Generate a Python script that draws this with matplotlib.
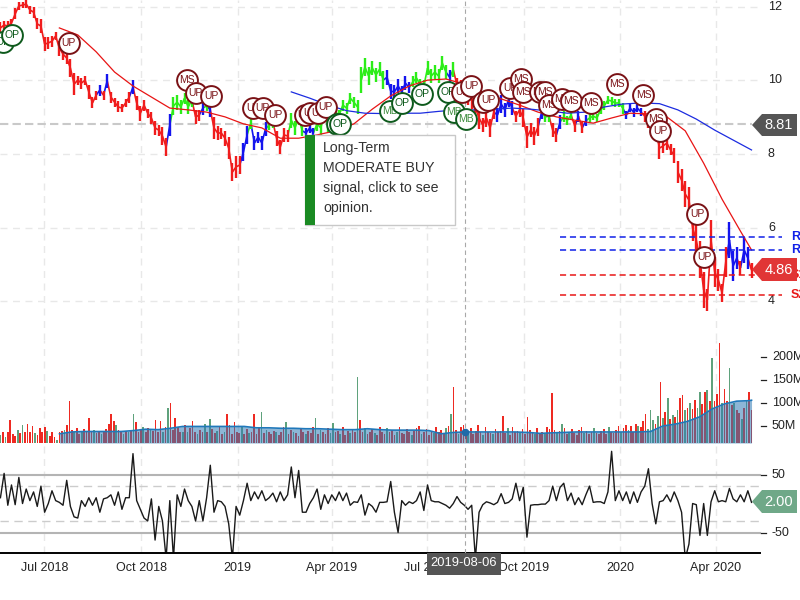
import numpy as np
import pandas as pd
import matplotlib
matplotlib.use("Agg")
import matplotlib.pyplot as plt
import matplotlib.dates as mdates
from matplotlib.collections import LineCollection
from matplotlib.patches import Polygon, Rectangle

plt.rcParams["font.family"] = ["Liberation Sans", "DejaVu Sans"]

# ── Data ───────────────────────────────────────────────────
price = [
    11.43, 11.51, 11.48, 11.56, 11.81, 12.03, 12.05, 12.08, 11.92, 11.86,
    11.54, 11.48, 10.99, 11.02, 11.07, 11.21, 10.88, 10.72, 10.61, 10.34,
    9.90, 10.01, 9.93, 10.01, 9.69, 9.39, 9.60, 9.74, 9.60, 9.99,
    9.55, 9.41, 9.28, 9.25, 9.39, 9.55, 9.82, 9.39, 9.11, 9.33,
    9.11, 8.98, 8.71, 8.65, 8.49, 8.19, 8.79, 9.31, 9.41, 9.28,
    9.52, 9.28, 9.47, 9.01, 9.06, 9.25, 9.31, 9.20, 8.71, 8.57,
    8.57, 8.43, 8.16, 7.51, 7.65, 7.70, 8.05, 8.52, 8.84, 8.30,
    8.46, 8.30, 8.68, 8.79, 8.87, 8.43, 8.19, 8.52, 8.49, 8.92,
    8.71, 8.98, 8.63, 8.57, 8.71, 8.57, 8.82, 8.71, 9.09, 8.79,
    9.03, 9.14, 9.06, 9.33, 9.25, 9.52, 9.41, 9.28, 10.01, 10.37,
    10.12, 10.34, 10.15, 10.31, 10.01, 10.09, 9.71, 9.69, 9.85, 9.69,
    9.93, 9.80, 9.96, 10.07, 9.88, 9.85, 10.34, 10.12, 10.23, 10.12,
    10.48, 10.23, 10.09, 10.29, 9.88, 9.80, 9.69, 9.52, 9.47, 9.25,
    8.98, 8.79, 8.98, 8.71, 9.14, 9.06, 9.36, 9.20, 9.47, 9.25,
    9.03, 9.20, 8.98, 8.46, 8.65, 8.49, 8.73, 9.14, 9.01, 9.03,
    8.65, 8.52, 8.87, 9.01, 8.92, 9.06, 8.76, 9.03, 8.71, 8.90,
    8.98, 9.03, 8.98, 9.20, 9.31, 9.47, 9.44, 9.39, 9.39, 9.25,
    9.06, 9.25, 9.14, 9.25, 9.14, 9.03, 8.87, 8.71, 8.65, 8.16,
    8.22, 8.30, 8.11, 7.95, 7.51, 7.29, 6.91, 6.75, 5.99, 5.66,
    5.12, 4.30, 4.03, 5.66, 4.79, 4.57, 4.22, 5.06, 5.66, 4.95,
    5.17, 4.90, 5.39, 5.17, 4.84,
]
# half height of the daily bars around each price point
price_swing = [
    .15, .12, .15, .12, .15, .10, .08, .10, .12, .15,
    .15, .20, .20, .15, .15, .12, .20, .15, .15, .25,
    .30, .12, .15, .12, .20, .15, .12, .15, .12, .20,
    .15, .12, .15, .12, .12, .15, .20, .20, .20, .15,
    .12, .15, .20, .15, .25, .25, .30, .25, .20, .20,
    .15, .20, .20, .20, .15, .20, .15, .20, .30, .20,
    .15, .20, .30, .25, .30, .25, .25, .25, .15, .20,
    .15, .20, .20, .15, .15, .20, .20, .20, .15, .20,
    .20, .20, .15, .15, .15, .15, .20, .20, .20, .20,
    .20, .15, .15, .15, .15, .15, .15, .20, .35, .25,
    .25, .20, .20, .20, .25, .20, .20, .20, .20, .15,
    .20, .15, .15, .15, .15, .15, .20, .20, .20, .20,
    .20, .20, .20, .20, .20, .20, .20, .20, .25, .20,
    .30, .20, .25, .25, .20, .20, .25, .20, .20, .20,
    .15, .20, .25, .30, .20, .25, .25, .20, .15, .15,
    .20, .20, .20, .15, .12, .12, .15, .15, .15, .15,
    .12, .10, .12, .12, .12, .10, .10, .10, .12, .15,
    .12, .10, .12, .10, .10, .15, .15, .20, .25, .30,
    .20, .20, .15, .20, .30, .30, .35, .35, .35, .40,
    .50, .50, .30, .55, .40, .30, .25, .40, .50, .40,
    .30, .20, .35, .30, .20,
]
price_runs = [
    ("r", 27), ("b", 1), ("r", 1), ("b", 1), ("r", 6), ("b", 1), ("r", 9), ("b", 1),
    ("g", 6), ("r", 2), ("b", 1), ("g", 1), ("b", 1), ("r", 8), ("b", 2), ("g", 1),
    ("b", 4), ("g", 2), ("r", 4), ("g", 4), ("b", 3), ("g", 19), ("b", 7), ("g", 10),
    ("b", 1), ("g", 1), ("r", 11), ("b", 5), ("r", 7), ("b", 1), ("g", 2), ("r", 2),
    ("b", 1), ("g", 3), ("r", 1), ("b", 1), ("r", 1), ("b", 1), ("g", 10), ("b", 5),
    ("r", 23), ("b", 3), ("r", 1), ("b", 2), ("r", 1),
]
price_breaks = [97, 183]

ma_short = [
    11.43, 11.24, 10.78, 10.23, 9.85, 9.55, 9.25, 9.20, 9.14, 9.01,
    8.82, 8.71, 8.43, 8.43, 8.52, 8.63, 8.82, 9.22, 9.58, 9.85,
    10.01, 10.04, 9.90, 9.69, 9.50, 9.33, 9.14, 9.01, 8.92, 8.84,
    8.98, 9.11, 9.09, 9.01, 8.63, 7.75, 6.77, 5.90, 5.39,
]
ma_long = [
    9.69, 9.52, 9.33, 9.18, 9.11, 9.10, 9.11, 9.11, 9.16, 9.20,
    9.20, 9.22, 9.25, 9.22, 9.17, 9.11, 9.14, 9.28, 9.36, 9.39,
    9.37, 9.20, 8.95, 8.65, 8.38, 8.11,
]

volume = [
    30, 36, 26, 38, 64, 32, 28, 42, 34, 53,
    36, 55, 38, 50, 35, 30, 46, 38, 48, 40,
    28, 38, 26, 20, 36, 40, 42, 52, 104, 42,
    38, 46, 32, 36, 44, 36, 67, 36, 42, 34,
    40, 33, 36, 44, 54, 77, 60, 52, 42, 36,
    33, 40, 36, 40, 75, 59, 36, 42, 48, 38,
    46, 42, 40, 62, 38, 60, 36, 48, 90, 100,
    42, 67, 48, 38, 38, 52, 36, 46, 60, 38,
    33, 42, 36, 54, 38, 65, 44, 34, 40, 50,
    32, 38, 77, 52, 33, 58, 38, 34, 48, 32,
    44, 34, 38, 75, 33, 48, 80, 34, 42, 38,
    33, 40, 38, 30, 38, 48, 58, 32, 42, 38,
    34, 28, 44, 38, 33, 40, 34, 48, 67, 32,
    42, 38, 33, 46, 34, 56, 38, 40, 33, 48,
    30, 40, 34, 44, 38, 157, 62, 38, 46, 32,
    36, 44, 34, 30, 48, 38, 33, 46, 36, 42,
    30, 38, 48, 34, 33, 44, 38, 30, 40, 46,
    50, 33, 38, 44, 30, 40, 34, 48, 38, 42,
    34, 46, 50, 77, 135, 42, 32, 48, 52, 38,
    34, 46, 33, 40, 52, 36, 30, 48, 38, 34,
    33, 44, 38, 40, 72, 34, 46, 30, 48, 38,
    40, 34, 44, 33, 70, 42, 36, 32, 46, 34,
    38, 33, 48, 44, 122, 42, 34, 40, 55, 46,
    33, 38, 44, 34, 30, 42, 48, 34, 40, 33,
    38, 46, 34, 32, 40, 44, 33, 48, 38, 34,
    42, 50, 36, 46, 52, 42, 50, 38, 54, 50,
    48, 60, 77, 44, 85, 62, 54, 72, 146, 68,
    80, 111, 66, 74, 70, 85, 111, 118, 84, 90,
    100, 88, 107, 90, 125, 98, 125, 129, 104, 198,
    105, 120, 230, 100, 130, 105, 176, 95, 100, 85,
    78, 66, 90, 107, 125, 84,
]
volume_green = [
    0, 2, 7, 9, 14, 19, 23, 26, 30, 33, 38, 41, 47, 50, 52, 54, 58, 61, 66, 68,
    74, 76, 80, 83, 85, 88, 91, 98, 101, 106, 108, 112, 116, 119, 124, 128, 130,
    134, 135, 138, 142, 145, 148, 152, 157, 161, 167, 171, 176, 181, 183, 186,
    190, 196, 200, 206, 211, 217, 221, 226, 228, 231, 237, 241, 247, 252, 255,
    259, 263, 264, 265, 267, 269, 271, 273, 275, 278, 280, 283, 284, 287, 289,
    293, 296, 298, 301, 303,
]
volume_ma = [
    33, 37, 38, 38, 38, 38, 40, 43, 42, 45, 49, 49, 49, 49, 49, 49,
    46, 46, 45, 45, 44, 44, 43, 42, 42, 44, 42, 41, 41, 41, 40, 33,
    36, 37, 37, 37, 37, 37, 36, 34, 35, 36, 37, 37, 37, 37, 37, 37,
    38, 50, 54, 60, 70, 87, 98, 104, 105, 106,
]

momentum = [
    10, 52, -3, 32, -2, 45, 0, 25, 5, 20,
    -5, 30, -15, 0, 22, 5, 2, -3, 40, -5,
    -23, -25, 5, -5, 10, -3, 10, -15, 8, 10,
    15, -3, 20, -10, 10, 10, 86, 5, -10, -25,
    -30, 8, -63, -5, -30, -95, 5, -95, 15, -5,
    25, 5, -5, -30, 5, -30, 10, 66, -15, 5,
    3, -5, -35, -95, -5, -20, 5, 35, 5, 20,
    8, 22, 5, 10, 18, 3, 20, 5, 15, 63,
    10, 57, -15, -15, 0, 10, 25, -10, 15, 0,
    15, 5, 20, 5, 18, -3, 3, 2, 15, -20,
    0, -5, -15, 2, 2, 3, 38, -15, -50, 5,
    -3, 3, 0, 5, 20, -12, 32, 5, 3, 3,
    0, -3, -8, 0, 12, 2, -3, -10, -3, -95,
    -15, -2, 3, 1, -2, 2, 17, 0, 2, 8,
    35, 5, 28, -58, -3, -2, -2, -1, -1, 5,
    30, 5, 28, 35, 5, 18, -2, 10, -2, 15,
    30, 2, 3, 3, 0, 20, 90, 5, 22, 5,
    20, 0, 20, 2, 20, 30, 60, 0, -35, 3,
    5, 15, 3, 20, 5, -15, -95, -70, 0, -2,
    -55, 0, -55, 3, 22, 3, 5, 3, 26, 8,
    3, 15, 3, 22, 2,
]

bubble_labels = [
    "OP", "OP", "UP", "MS", "UP", "UP", "UP", "UP", "UP", "UP", "UP", "UP", "UP",
    "OP", "OP", "MB", "OP", "OP", "OP", "MB", "UP", "MB", "UP", "UP", "UP", "UP",
    "MS", "MS", "MS", "MS", "MS", "MS", "MS", "MS", "MS", "MS", "MS", "UP", "UP", "UP",
]
bubble_dates = [
    "2018-05-22", "2018-05-31", "2018-07-24", "2018-11-14", "2018-11-22", "2018-12-07",
    "2019-01-16", "2019-01-25", "2019-02-06", "2019-03-06", "2019-03-11", "2019-03-19",
    "2019-03-26", "2019-04-06", "2019-04-09", "2019-05-26", "2019-06-07", "2019-06-26",
    "2019-07-21", "2019-07-26", "2019-08-03", "2019-08-07", "2019-08-12", "2019-08-23",
    "2019-08-28", "2019-09-18", "2019-09-28", "2019-09-30", "2019-10-16", "2019-10-21",
    "2019-10-25", "2019-11-06", "2019-11-15", "2019-12-04", "2019-12-29", "2020-01-23",
    "2020-02-04", "2020-02-08", "2020-03-14", "2020-03-21",
]
bubble_prices = [
    11.05, 11.24, 11.02, 10.01, 9.66, 9.58, 9.25, 9.25, 9.06, 9.06, 9.11, 9.11, 9.28,
    8.82, 8.82, 9.17, 9.39, 9.63, 9.69, 9.14, 9.69, 8.95, 9.85, 9.41, 9.47, 9.80,
    10.04, 9.69, 9.69, 9.69, 9.33, 9.50, 9.44, 9.39, 9.90, 9.60, 8.95, 8.63, 6.37, 5.20,
]

level_names = ["R2", "R1", "S1", "S2"]
level_values = [5.74, 5.39, 4.71, 4.16]
level_colors = ["#1020e8", "#1020e8", "#e81818", "#e81818"]

x_tick_dates = ["2018-07-01", "2018-10-01", "2019-01-01", "2019-04-01",
                "2019-07-01", "2019-10-01", "2020-01-01", "2020-04-01"]
x_tick_labels = ["Jul 2018", "Oct 2018", "2019", "Apr 2019",
                 "Jul 2019", "Oct 2019", "2020", "Apr 2020"]
price_ticks = [12, 10, 8, 6, 4]
volume_ticks = [200, 150, 100, 50]
momentum_ticks = [50, -50]
momentum_bands = [30, -30]

cursor_date = "2019-08-06"
cursor_volume = 37
last_close_mark = 8.81

# ── Scales ─────────────────────────────────────────────────
START, END = "2018-05-20", "2020-05-05"
num = lambda d: mdates.date2num(pd.Timestamp(d))
price_x = mdates.date2num(pd.date_range(START, END, periods=len(price)))
volume_x = mdates.date2num(pd.date_range(START, END, periods=len(volume)))
momentum_x = mdates.date2num(pd.date_range(START, END, periods=len(momentum)))

# 1.049 px per calendar day, Jul 2018 tick at px 44.5
xlim = (num("2018-07-01") - 44.5 / 1.049, num("2018-07-01") + 755.5 / 1.049)
right_edge = num("2020-05-13")

COLORS = {"r": "#f01c1c", "b": "#1414ee", "g": "#2ced18"}
GRID = "#e8e8e8"
TEXT = "#222222"

fig = plt.figure(figsize=(8, 6), dpi=100)


def panel(top, bottom):
    ax = fig.add_axes([0, 1 - bottom / 600, 1, (bottom - top) / 600])
    ax.set_xlim(xlim)
    ax.set_axis_off()
    for d in x_tick_dates:
        ax.axvline(num(d), color=GRID, lw=1, ls=(0, (5, 4)), zorder=0)
    ax.axvline(num(cursor_date), color="#a8a8a8", lw=0.8, ls=(0, (4, 3)), zorder=6)
    return ax


# ── Price panel ────────────────────────────────────────────
ax_price = panel(0, 340)
ax_price.set_ylim(2.94, 12.19)
for t in price_ticks:
    ax_price.plot([xlim[0], right_edge], [t, t], color=GRID, lw=1, ls=(0, (5, 4)), zorder=0)
    ax_price.text(768 / 800, t, str(t), transform=ax_price.get_yaxis_transform(),
                  ha="left", va="center", fontsize=9, color=TEXT)

ax_price.plot([xlim[0], num("2020-05-05")], [last_close_mark] * 2, color="#c9c9c9",
              lw=1.5, ls=(0, (4, 2)), zorder=1)

states = [c for c, n in price_runs for _ in range(n)]
state_colors = [COLORS[c] for c in states]
points = np.column_stack([price_x, price])
segments = np.stack([points[:-1], points[1:]], axis=1)
keep = [i for i in range(len(segments)) if i not in price_breaks]
ax_price.add_collection(LineCollection(segments[keep],
                                       colors=[state_colors[i + 1] for i in keep],
                                       linewidths=1.2, zorder=3))
low = np.array(price) - np.array(price_swing)
high = np.array(price) + np.array(price_swing)
ax_price.vlines(price_x, low, high, colors=state_colors, linewidths=1.7, zorder=3)

short_idx = list(range(16, 202, 5)) + [204]
long_idx = list(range(79, 200, 5)) + [204]
ax_price.plot(price_x[short_idx], ma_short, color="#e81414", lw=0.9, zorder=4)
ax_price.plot(price_x[long_idx], ma_long, color="#1c2ce0", lw=0.9, zorder=4)

for name, value, color in zip(level_names, level_values, level_colors):
    ax_price.plot([num("2019-11-04"), num("2020-06-03")], [value, value], color=color,
                  lw=1.1, ls=(0, (4, 2.5)), zorder=5)
    ax_price.text(791 / 800, value, name, transform=ax_price.get_yaxis_transform(),
                  ha="left", va="center", fontsize=9, fontweight="bold", color=color,
                  zorder=9)

for i, (label, d, p) in enumerate(zip(bubble_labels, bubble_dates, bubble_prices)):
    bullish = label in ("OP", "MB")
    edge = "#0e5a1c" if bullish else "#7a1216"
    ink = "#0e5a1c" if label == "OP" else "#3c8c3c" if label == "MB" else "#7a1216"
    ax_price.scatter(num(d), p, s=225, facecolor="white", edgecolor=edge, linewidth=1.4,
                     zorder=7 + i * 0.01, clip_on=False)
    ax_price.text(num(d), p, label, ha="center", va="center", fontsize=7.5, color=ink,
                  zorder=7 + i * 0.01 + 0.005)

# ── Volume panel ───────────────────────────────────────────
ax_vol = panel(340, 443)
ax_vol.set_ylim(13, 237)
vol_colors = ["#5fa27c" if i in volume_green else "#ee2a22" for i in range(len(volume))]
ax_vol.bar(volume_x, volume, width=1.6, color=vol_colors, zorder=2)

vol_idx = list(range(24, 305, 5)) + [305]
ax_vol.fill_between(volume_x[vol_idx], 13, volume_ma, color="#2f7ab5", alpha=0.55,
                    lw=0, zorder=3)
ax_vol.plot(volume_x[vol_idx], volume_ma, color="#1f78ba", lw=1.2, zorder=4)
ax_vol.plot([num(cursor_date)], [cursor_volume], "o", ms=4.5, color="#1f6aa8", zorder=7)

for t in volume_ticks:
    ax_vol.plot([761 / 800, 766 / 800], [t, t], transform=ax_vol.get_yaxis_transform(),
                color=TEXT, lw=0.9)
    ax_vol.text(772 / 800, t, f"{t}M", transform=ax_vol.get_yaxis_transform(),
                ha="left", va="center", fontsize=9, color=TEXT, clip_on=False)

# ── Momentum panel ─────────────────────────────────────────
ax_mom = panel(445, 553)
ax_mom.set_ylim(-85.3, 100.9)
for t in momentum_ticks:
    ax_mom.plot([xlim[0], right_edge], [t, t], color="#b4b4b4", lw=1.5, zorder=1)
    ax_mom.plot([761 / 800, 766 / 800], [t, t], transform=ax_mom.get_yaxis_transform(),
                color=TEXT, lw=0.9)
    ax_mom.text(772 / 800, t, str(t), transform=ax_mom.get_yaxis_transform(),
                ha="left", va="center", fontsize=9, color=TEXT)
for t in momentum_bands:
    ax_mom.plot([xlim[0], right_edge], [t, t], color="#cccccc", lw=1, ls=(0, (6, 4)), zorder=1)
ax_mom.plot(momentum_x, momentum, color="#1a1a1a", lw=1.0, zorder=3)
ax_mom.plot([xlim[0], right_edge], [-85.3, -85.3], color="black", lw=1.4, zorder=5,
            clip_on=False)

for d, label in zip(x_tick_dates, x_tick_labels):
    ax_mom.annotate(label, (num(d), 0), xycoords=ax_mom.get_xaxis_transform(),
                    xytext=(0, -11), textcoords="offset points", ha="center", va="center",
                    fontsize=9, color=TEXT, annotation_clip=False)

# ── Overlay chrome in pixel coordinates ────────────────────
top = fig.add_axes([0, 0, 1, 1], zorder=20)
top.set_xlim(0, 800)
top.set_ylim(600, 0)
top.set_axis_off()


def tag(y0, y1, color, label):
    mid = (y0 + y1) / 2
    top.add_patch(Polygon([(752, mid), (762, y0), (797, y0), (797, y1), (762, y1)],
                          facecolor=color, edgecolor="none"))
    top.text(779, mid, label, ha="center", va="center", fontsize=10.5, color="white")


tag(114, 136, "#555555", "8.81")
tag(258, 281, "#e13636", "4.86")
tag(490, 513, "#6fa888", "2.00")

top.add_patch(Rectangle((304.5, 134.5), 150, 90, facecolor="white", edgecolor="#c8c8c8", lw=1))
top.add_patch(Rectangle((304.5, 134.5), 10, 90, facecolor="#1a8a22", edgecolor="none"))
for y, line in zip([148, 168, 188, 208],
                   ["Long-Term", "MODERATE BUY", "signal, click to see", "opinion."]):
    top.text(323, y, line, ha="left", va="center", fontsize=10.2, color="#333333")

top.add_patch(Rectangle((427, 553), 74, 22, facecolor="#555555", edgecolor="none"))
top.text(464, 563.5, cursor_date, ha="center", va="center", fontsize=9.3, color="white")

fig.savefig("out.png", dpi=100)
